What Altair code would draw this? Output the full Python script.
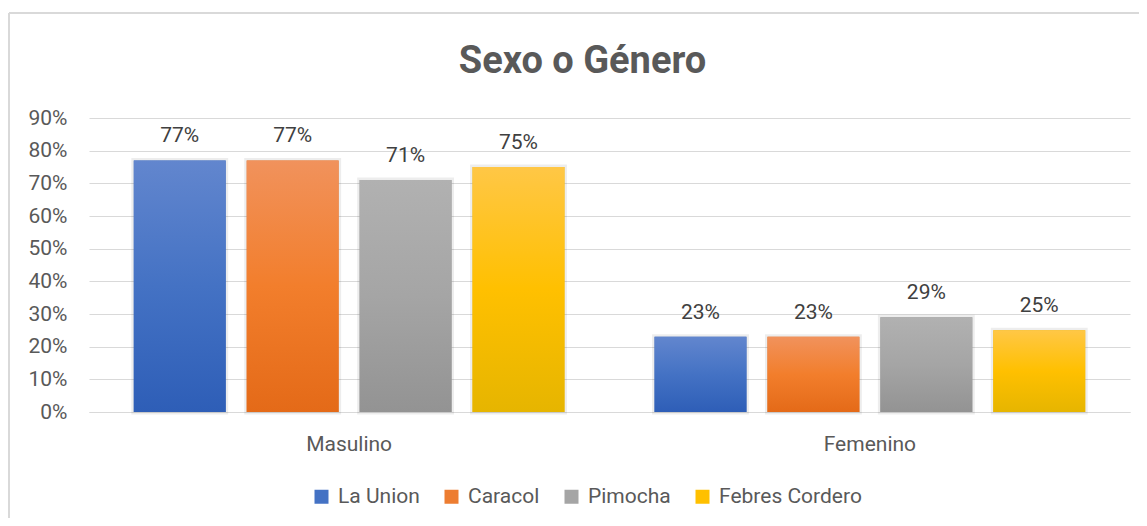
import altair as alt
import pandas as pd

groups = ["Masulino", "Femenino"]
series = ["La Union", "Caracol", "Pimocha", "Febres Cordero"]
values_masc = [0.77, 0.77, 0.71, 0.75]
values_fem = [0.23, 0.23, 0.29, 0.25]
tick_values = [0, 0.1, 0.2, 0.3, 0.4, 0.5, 0.6, 0.7, 0.8, 0.9]
title_text = "Sexo o Género"

solid = ["#4472C4", "#ED7D31", "#A5A5A5", "#FFC000"]
grad_stops = [
    ["#6286CE", "#4472C4", "#2E5EB7"],
    ["#F1925C", "#F27E2C", "#E46A18"],
    ["#B1B1B1", "#A5A5A5", "#939393"],
    ["#FFC746", "#FFC000", "#E6B500"],
]

rows = []
for g, vals in zip(groups, [values_masc, values_fem]):
    for s, v in zip(series, vals):
        rows.append({"grupo": g, "serie": s, "valor": v})
df = pd.DataFrame(rows)

FONT = "Roboto"
GRAY = "#595959"

x_enc = alt.X(
    "grupo:N",
    scale=alt.Scale(domain=groups, paddingInner=0.173, paddingOuter=0.086),
    sort=groups,
    axis=alt.Axis(
        title=None, labelAngle=0, labelFontSize=21, labelColor=GRAY, labelFont=FONT,
        ticks=False, tickSize=0, labelPadding=21, domain=True, domainColor="#D9D9D9",
        domainWidth=1.2, grid=False,
    ),
)
xo_enc = alt.XOffset(
    "serie:N",
    scale=alt.Scale(domain=series, paddingInner=0.186, paddingOuter=0),
    sort=series,
)
y_enc = alt.Y(
    "valor:Q",
    scale=alt.Scale(domain=[0, 0.9], nice=False, zero=True),
    axis=alt.Axis(
        title=None, values=tick_values, format=".0%", labelFontSize=21,
        labelColor=GRAY, labelFont=FONT, ticks=False, tickSize=0, labelPadding=22,
        domain=False, grid=True, gridColor="#D9D9D9", gridWidth=1.2,
    ),
)

base = alt.Chart(df).mark_bar(
    stroke="#000000", strokeOpacity=0.07, strokeWidth=5, strokeJoin="miter"
).encode(
    x=x_enc,
    xOffset=xo_enc,
    y=y_enc,
    color=alt.Color(
        "serie:N",
        scale=alt.Scale(domain=series, range=solid),
        legend=alt.Legend(
            title=None, orient="none", legendX=222, legendY=368, direction="horizontal",
            symbolType="square", symbolSize=196, symbolStrokeWidth=0,
            labelFontSize=21, labelColor=GRAY, labelFont=FONT, labelOffset=6,
            columnPadding=21, padding=0,
        ),
    ),
)

layers = [base]
for s, stops in zip(series, grad_stops):
    grad = alt.Gradient(
        gradient="linear",
        stops=[
            alt.GradientStop(color=stops[0], offset=0),
            alt.GradientStop(color=stops[1], offset=0.5),
            alt.GradientStop(color=stops[2], offset=1),
        ],
        x1=0, x2=0, y1=0, y2=1,
    )
    layers.append(
        alt.Chart(df)
        .transform_filter(alt.datum.serie == s)
        .mark_bar(fill=grad)
        .encode(x=x_enc, xOffset=xo_enc, y=y_enc)
    )

labels = alt.Chart(df).mark_text(
    baseline="alphabetic", dy=-18, fontSize=21, font=FONT, color="#404040"
).encode(
    x=x_enc, xOffset=xo_enc, y=y_enc,
    text=alt.Text("valor:Q", format=".0%"),
)
layers.append(labels)

one = pd.DataFrame({"t": [title_text]})
title = alt.Chart(one).mark_text(
    align="center", baseline="alphabetic", fontSize=38, font=FONT,
    fontWeight="bold", color=GRAY,
).encode(x=alt.value(493.5), y=alt.value(-45), text="t:N")

frame_v = alt.Chart(one).mark_rule(color="#D9D9D9", strokeWidth=2).encode(
    x=alt.value(-80), y=alt.value(-105), y2=alt.value(420)
)
frame_h = alt.Chart(one).mark_rule(color="#D9D9D9", strokeWidth=2).encode(
    x=alt.value(-80), x2=alt.value(1100), y=alt.value(-105)
)

chart = (
    alt.layer(frame_v, frame_h, *layers, title)
    .properties(
        width=1041, height=294,
        autosize=alt.AutoSizeParams(type="none"),
        padding={"left": 81, "top": 110, "right": 9, "bottom": 106},
    )
    .configure_view(stroke=None)
    .configure_text(font=FONT)
)

chart.save("out.html", embed_options={"renderer": "svg", "actions": False})
